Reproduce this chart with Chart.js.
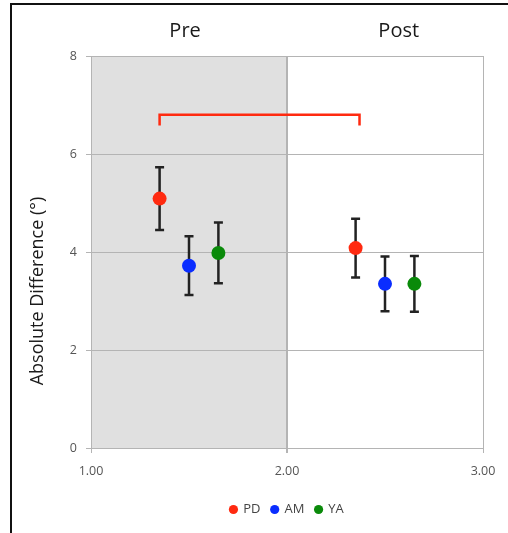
<!DOCTYPE html>
<html>
<head>
<meta charset="utf-8">
<script src="https://cdn.jsdelivr.net/npm/chart.js@4/dist/chart.umd.min.js"></script>
<style>
  html, body { margin: 0; padding: 0; background: #fff; }
  #wrap { position: relative; width: 508px; height: 533px; }
  #frame { position: absolute; left: 10px; top: 3px; right: 0; bottom: 0; border-top: 2px solid #111; border-left: 2px solid #111; pointer-events: none; }
  canvas { position: absolute; left: 0; top: 0; }
</style>
</head>
<body>
<div id="wrap">
  <canvas id="c" width="508" height="533"></canvas>
  <div id="frame"></div>
</div>
<script>
// ---- Data ----
const groups = ['PD', 'AM', 'YA'];
const sessionLabels = ['Pre', 'Post'];
const pdX = [1.35, 2.35];
const pdMean = [5.09, 4.08];
const pdErr = [0.64, 0.60];
const amX = [1.50, 2.50];
const amMean = [3.72, 3.35];
const amErr = [0.60, 0.56];
const yaX = [1.65, 2.65];
const yaMean = [3.98, 3.35];
const yaErr = [0.62, 0.57];
const bracketX = [1.35, 1.35, 2.37, 2.37];
const bracketY = [6.58, 6.80, 6.80, 6.58];
const xTicks = [1, 2, 3];
const yTicks = [0, 2, 4, 6, 8];
const yTitle = 'Absolute Difference (°)';

const colors = ['#ff2a10', '#0a2dff', '#0a8a0a'];
const seriesX = [pdX, amX, yaX];
const seriesMean = [pdMean, amMean, yaMean];
const seriesErr = [pdErr, amErr, yaErr];

const FONT = "'Open Sans', sans-serif";

const datasets = groups.map((g, i) => ({
  label: g,
  data: seriesX[i].map((x, j) => ({ x: x, y: seriesMean[i][j] })),
  backgroundColor: colors[i],
  borderColor: colors[i],
  borderWidth: 0,
  pointRadius: 7,
  pointHoverRadius: 7,
  errors: seriesErr[i]
}));
datasets.push({
  label: 'bracket',
  data: bracketX.map((x, j) => ({ x: x, y: bracketY[j] })),
  showLine: true,
  borderColor: '#ff2a10',
  borderWidth: 2.5,
  pointRadius: 0,
  fill: false,
  isBracket: true
});

const decorPlugin = {
  id: 'decor',
  beforeDraw(chart) {
    const { ctx, chartArea: a, scales: { x, y } } = chart;
    ctx.save();
    ctx.fillStyle = '#ffffff';
    ctx.fillRect(0, 0, chart.width, chart.height);
    ctx.fillStyle = '#e0e0e0';
    ctx.fillRect(x.getPixelForValue(1), y.getPixelForValue(8), x.getPixelForValue(2) - x.getPixelForValue(1), y.getPixelForValue(0) - y.getPixelForValue(8));
    ctx.restore();
  },
  beforeDatasetsDraw(chart) {
    const { ctx, scales: { x, y } } = chart;
    ctx.save();
    ctx.strokeStyle = '#222';
    ctx.lineWidth = 2.5;
    chart.data.datasets.forEach(ds => {
      if (!ds.errors) return;
      ds.data.forEach((p, j) => {
        const px = x.getPixelForValue(p.x);
        const top = y.getPixelForValue(p.y + ds.errors[j]);
        const bot = y.getPixelForValue(p.y - ds.errors[j]);
        ctx.beginPath();
        ctx.moveTo(px, top); ctx.lineTo(px, bot);
        ctx.moveTo(px - 4.5, top); ctx.lineTo(px + 4.5, top);
        ctx.moveTo(px - 4.5, bot); ctx.lineTo(px + 4.5, bot);
        ctx.stroke();
      });
    });
    ctx.restore();
  },
  afterDraw(chart, args, opts) {
    const { ctx, chartArea: a, scales: { x, y } } = chart;
    ctx.save();
    ctx.fillStyle = '#1a1a1a';
    ctx.font = '20px ' + FONT;
    ctx.textAlign = 'center';
    ctx.textBaseline = 'middle';
    sessionLabels.forEach((s, i) => {
      ctx.fillText(s, x.getPixelForValue(opts.sessionAt[i]), opts.sessionY);
    });
    ctx.translate(opts.titleX, opts.titleY);
    ctx.rotate(-Math.PI / 2);
    ctx.font = '18px ' + FONT;
    ctx.fillText(yTitle, 0, 0);
    ctx.restore();
  }
};

new Chart(document.getElementById('c'), {
  type: 'scatter',
  data: { datasets },
  plugins: [decorPlugin],
  options: {
    responsive: false,
    animation: false,
    layout: { padding: { left: 0, right: 25, top: 56, bottom: 7 } },
    plugins: {
      decor: { sessionAt: [1.48, 2.57], sessionY: 31, titleX: 38, titleY: 291 },
      tooltip: { enabled: false },
      legend: {
        position: 'bottom',
        fullSize: false,
        labels: {
          usePointStyle: true,
          pointStyle: 'circle',
          boxWidth: 6.5,
          boxHeight: 6.5,
          padding: 11,
          color: '#444',
          font: { family: FONT, size: 13 },
          filter: (item, data) => !data.datasets[item.datasetIndex].isBracket
        }
      }
    },
    scales: {
      x: {
        type: 'linear',
        min: 1, max: 3,
        afterBuildTicks: s => { s.ticks = xTicks.map(v => ({ value: v })); },
        afterFit: s => { s.height = 44; },
        ticks: { color: '#555', font: { family: FONT, size: 12.5 }, padding: 11, callback: v => v.toFixed(2), maxRotation: 0 },
        grid: { color: '#b4b4b4', lineWidth: ctx => (ctx.tick && ctx.tick.value === 2 ? 2 : 1), tickLength: 5, drawTicks: true },
        border: { color: '#b4b4b4', width: 1 }
      },
      y: {
        type: 'linear',
        min: 0, max: 8,
        afterBuildTicks: s => { s.ticks = yTicks.map(v => ({ value: v })); },
        afterFit: s => { s.width = 91; },
        ticks: { color: '#555', font: { family: FONT, size: 12.5 }, padding: 9 },
        grid: { color: '#b4b4b4', lineWidth: 1, tickLength: 5, drawTicks: true },
        border: { color: '#b4b4b4', width: 1 }
      }
    }
  }
});
</script>
</body>
</html>
